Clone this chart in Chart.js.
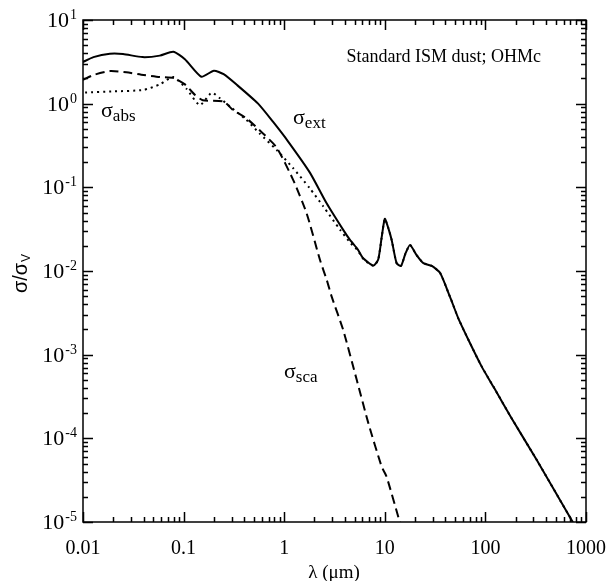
<!DOCTYPE html>
<html>
<head>
<meta charset="utf-8">
<script src="https://cdn.jsdelivr.net/npm/chart.js@4/dist/chart.umd.min.js"></script>
<style>
  body { margin: 0; background: #fff; }
  #wrap { width: 611px; height: 581px; }
</style>
</head>
<body>
<div id="wrap"><canvas id="myChart" width="611" height="581"></canvas></div>
<script>
// wavelengths (um) and cross sections, one pair of arrays per curve
var lamExt = [0.01, 0.0127, 0.0185, 0.025, 0.039, 0.058, 0.079, 0.103, 0.15, 0.2, 0.25, 0.34, 0.55, 0.78, 1.1, 1.8, 2.65, 3.86, 4.51, 5.4, 6.1, 7.7, 8.6, 9.3, 10.0, 10.8, 11.7, 13.1, 14.5, 16, 17.8, 20.7, 24.2, 29.3, 35.4, 44.5, 53.8, 70.4, 91.9, 120, 182, 324, 738];
var sigExt = [3.15, 3.6, 3.95, 3.92, 3.6, 3.75, 4.18, 3.4, 2.1, 2.48, 2.25, 1.67, 1.0, 0.6, 0.35, 0.15, 0.064, 0.031, 0.0235, 0.018, 0.0142, 0.0116, 0.0137, 0.025, 0.042, 0.033, 0.0235, 0.0124, 0.0115, 0.016, 0.0205, 0.0155, 0.0124, 0.0115, 0.0095, 0.0049, 0.00272, 0.00137, 0.00072, 0.000415, 0.000174, 0.000055, 0.00001];

var lamSca = [0.01, 0.0127, 0.0185, 0.027, 0.04, 0.058, 0.08, 0.103, 0.13, 0.155, 0.25, 0.31, 0.42, 0.57, 0.84, 1.23, 1.67, 2.27, 2.65, 2.97, 3.86, 5.26, 6.87, 9.3, 10.4, 13.9, 14.2];
var sigSca = [1.92, 2.2, 2.45, 2.37, 2.2, 2.08, 2.02, 1.7, 1.27, 1.1, 1.06, 0.84, 0.67, 0.48, 0.3, 0.122, 0.049, 0.0135, 0.0078, 0.0049, 0.00197, 0.0005, 0.000151, 0.000046, 0.000035, 0.0000106, 0.00001];

var lamAbs = [0.0105, 0.02, 0.04, 0.058, 0.079, 0.107, 0.145, 0.19, 0.23, 0.29, 0.42, 0.57, 0.84, 1.23, 1.8, 2.45, 3.6, 4.51, 5.4, 6.1, 7.7, 8.6, 9.3, 10.0, 10.8, 11.7, 13.1, 14.5, 16, 17.8, 20.7, 24.2, 29.3, 35.4, 44.5, 53.8, 70.4, 91.9, 120, 182, 324, 738];
var sigAbs = [1.36, 1.4, 1.46, 1.7, 2.08, 1.5, 0.96, 1.35, 1.16, 0.92, 0.64, 0.44, 0.28, 0.169, 0.097, 0.059, 0.031, 0.022, 0.0175, 0.014, 0.0115, 0.0137, 0.025, 0.042, 0.033, 0.0235, 0.0124, 0.0115, 0.016, 0.0205, 0.0155, 0.0124, 0.0115, 0.0095, 0.0049, 0.00272, 0.00137, 0.00072, 0.000415, 0.000174, 0.000055, 0.00001];

// axis ticks
var xTickValues = [0.01, 0.1, 1, 10, 100, 1000];
var xTickLabels = ['0.01', '0.1', '1', '10', '100', '1000'];
var yTickExponents = [1, 0, -1, -2, -3, -4, -5];

function toPoints(xs, ys) {
    var pts = [];
    for (var i = 0; i < xs.length; i++) {
        pts.push({x: xs[i], y: ys[i]});
    }
    return pts;
}

// draws frame, inward ticks and all the text (exponents and subscripts need canvas text)
var framePlugin = {
    id: 'frame',
    afterDraw: function(chart) {
        var ctx = chart.ctx;
        var a = chart.chartArea;
        var xs = chart.scales.x;
        var ys = chart.scales.y;
        ctx.save();
        ctx.strokeStyle = '#000';
        ctx.lineWidth = 1.5;
        ctx.strokeRect(a.left, a.top, a.right - a.left, a.bottom - a.top);

        ctx.beginPath();
        // x ticks, top and bottom
        for (var d = -2; d <= 3; d++) {
            for (var m = 1; m <= 9; m++) {
                var v = m * Math.pow(10, d);
                if (v > 1000) break;
                var px = Math.round(xs.getPixelForValue(v)) + 0.5;
                var len = (m === 1) ? 10 : 5;
                ctx.moveTo(px, a.bottom); ctx.lineTo(px, a.bottom - len);
                ctx.moveTo(px, a.top); ctx.lineTo(px, a.top + len);
            }
        }
        // y ticks, left and right
        for (var e = -5; e <= 1; e++) {
            for (var k = 1; k <= 9; k++) {
                var w = k * Math.pow(10, e);
                if (w > 10) break;
                var py = Math.round(ys.getPixelForValue(w)) + 0.5;
                var l2 = (k === 1) ? 10 : 5;
                ctx.moveTo(a.left, py); ctx.lineTo(a.left + l2, py);
                ctx.moveTo(a.right, py); ctx.lineTo(a.right - l2, py);
            }
        }
        ctx.stroke();

        ctx.fillStyle = '#000';
        var serif = '"Liberation Serif", "Times New Roman", serif';

        // x tick labels
        ctx.font = '20px ' + serif;
        ctx.textAlign = 'center';
        ctx.textBaseline = 'alphabetic';
        xTickValues.forEach(function(v, i) {
            ctx.fillText(xTickLabels[i], xs.getPixelForValue(v), a.bottom + 32);
        });

        // y tick labels 10^n
        yTickExponents.forEach(function(n) {
            var py = ys.getPixelForValue(Math.pow(10, n));
            var expText = String(n);
            ctx.font = '14px ' + serif;
            var ew = ctx.measureText(expText).width;
            ctx.textAlign = 'left';
            var right = a.left - 6;
            ctx.fillText(expText, right - ew, py - 1);
            ctx.font = '22px ' + serif;
            ctx.textAlign = 'right';
            ctx.fillText('10', right - ew - 1, py + 7);
        });

        // x axis title
        ctx.font = '19px ' + serif;
        ctx.textAlign = 'center';
        ctx.fillText('\u03bb (\u03bcm)', 334, 578);

        // y axis title, rotated
        ctx.save();
        ctx.translate(27, 274);
        ctx.rotate(-Math.PI / 2);
        ctx.font = '20px "Liberation Sans", Arial, sans-serif';
        ctx.textAlign = 'left';
        var t1 = '\u03c3/\u03c3';
        var w1 = ctx.measureText(t1).width;
        ctx.font = '12px "Liberation Sans", Arial, sans-serif';
        var w2 = ctx.measureText('V').width;
        var start = -(w1 + w2) / 2;
        ctx.font = '20px "Liberation Sans", Arial, sans-serif';
        ctx.fillText(t1, start, 0);
        ctx.font = '12px "Liberation Sans", Arial, sans-serif';
        ctx.fillText('V', start + w1 + 1, 3);
        ctx.restore();

        // annotations
        ctx.font = '18px ' + serif;
        ctx.textAlign = 'right';
        ctx.fillText('Standard ISM dust; OHMc', 541, 62);

        function sigmaLabel(sub, x, y) {
            ctx.textAlign = 'left';
            ctx.font = '22px ' + serif;
            ctx.fillText('\u03c3', x, y);
            var sw = ctx.measureText('\u03c3').width;
            ctx.font = '17px ' + serif;
            ctx.fillText(sub, x + sw, y + 4);
        }
        sigmaLabel('abs', 101, 117);
        sigmaLabel('ext', 293, 124);
        sigmaLabel('sca', 284, 378);

        ctx.restore();
    }
};

var ctx = document.getElementById('myChart');

var myChart = new Chart(ctx, {
    type: 'line',
    data: {
        datasets: [{
            label: 'ext',
            data: toPoints(lamExt, sigExt),
            borderColor: '#000',
            borderWidth: 2,
            pointRadius: 0,
            tension: 0.2
        }, {
            label: 'sca',
            data: toPoints(lamSca, sigSca),
            borderColor: '#000',
            borderWidth: 2,
            borderDash: [9, 5],
            pointRadius: 0,
            tension: 0.2
        }, {
            label: 'abs',
            data: toPoints(lamAbs, sigAbs),
            borderColor: '#000',
            borderWidth: 2,
            borderDash: [2, 4],
            pointRadius: 0,
            tension: 0.2
        }]
    },
    options: {
        responsive: false,
        animation: false,
        layout: { padding: { left: 83, right: 25, top: 20, bottom: 59 } },
        plugins: {
            legend: { display: false },
            tooltip: { enabled: false }
        },
        scales: {
            x: { type: 'logarithmic', min: 0.01, max: 1000, display: false },
            y: { type: 'logarithmic', min: 0.00001, max: 10, display: false }
        }
    },
    plugins: [framePlugin]
});
</script>
</body>
</html>
